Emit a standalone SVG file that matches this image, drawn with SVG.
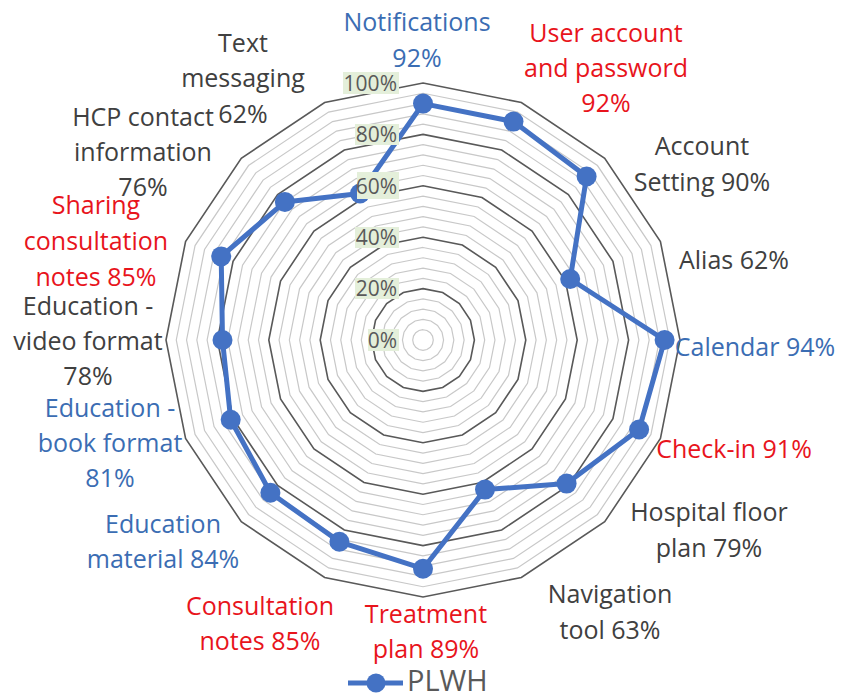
<svg xmlns="http://www.w3.org/2000/svg" xmlns:xlink="http://www.w3.org/1999/xlink" width="842" height="697" viewBox="0 0 842 697">
<style>
text{font-family:"Open Sans","Noto Sans","Liberation Sans",sans-serif}
#ring{vector-effect:non-scaling-stroke}
.mi{fill:none;stroke:#c8c8c8;stroke-width:1.2}
.ma{fill:none;stroke:#595959;stroke-width:1.6}
.ax{font-size:21px;fill:#595959;text-anchor:end}
.axb{fill:#e4efda}
.cat{font-size:25px;text-anchor:middle}
.blue{fill:#3b6db3}
.red{fill:#e8141c}
.dark{fill:#404040}
.dot{fill:#4472c4}
.series{fill:none;stroke:#4472c4;stroke-width:5;stroke-linejoin:round}
</style>
<defs>
<polygon id="ring" vector-effect="non-scaling-stroke" points="0,-100 38.268,-92.388 70.711,-70.711 92.388,-38.268 100,0 92.388,38.268 70.711,70.711 38.268,92.388 0,100 -38.268,92.388 -70.711,70.711 -92.388,38.268 -100,0 -92.388,-38.268 -70.711,-70.711 -38.268,-92.388"/>
</defs>
<rect width="842" height="697" fill="#ffffff"/>
<g id="grid">
<g class="mi">
<use xlink:href="#ring" transform="translate(423 340) scale(0.1028)"/>
<use xlink:href="#ring" transform="translate(423 340) scale(0.2056)"/>
<use xlink:href="#ring" transform="translate(423 340) scale(0.3084)"/>
<use xlink:href="#ring" transform="translate(423 340) scale(0.4112)"/>
<use xlink:href="#ring" transform="translate(423 340) scale(0.6168)"/>
<use xlink:href="#ring" transform="translate(423 340) scale(0.7196)"/>
<use xlink:href="#ring" transform="translate(423 340) scale(0.8224)"/>
<use xlink:href="#ring" transform="translate(423 340) scale(0.9252)"/>
<use xlink:href="#ring" transform="translate(423 340) scale(1.1308)"/>
<use xlink:href="#ring" transform="translate(423 340) scale(1.2336)"/>
<use xlink:href="#ring" transform="translate(423 340) scale(1.3364)"/>
<use xlink:href="#ring" transform="translate(423 340) scale(1.4392)"/>
<use xlink:href="#ring" transform="translate(423 340) scale(1.6448)"/>
<use xlink:href="#ring" transform="translate(423 340) scale(1.7476)"/>
<use xlink:href="#ring" transform="translate(423 340) scale(1.8504)"/>
<use xlink:href="#ring" transform="translate(423 340) scale(1.9532)"/>
<use xlink:href="#ring" transform="translate(423 340) scale(2.1588)"/>
<use xlink:href="#ring" transform="translate(423 340) scale(2.2616)"/>
<use xlink:href="#ring" transform="translate(423 340) scale(2.3644)"/>
<use xlink:href="#ring" transform="translate(423 340) scale(2.4672)"/>
</g>
<g class="ma">
<use xlink:href="#ring" transform="translate(423 340) scale(0.514)"/>
<use xlink:href="#ring" transform="translate(423 340) scale(1.028)"/>
<use xlink:href="#ring" transform="translate(423 340) scale(1.542)"/>
<use xlink:href="#ring" transform="translate(423 340) scale(2.056)"/>
<use xlink:href="#ring" transform="translate(423 340) scale(2.57)"/>
</g>
</g>
<g id="series-plwh">
<polygon class="series" points="423,103.6 513.5,121.6 586.6,176.5 570.2,279 664.6,340 639.1,429.5 566.6,483.6 485,489.6 423,568.7 339.4,541.8 270.4,492.7 230.7,419.7 222.5,340 221.2,256.4 284.9,201.9 360,193.5"/>
<g class="dot">
<circle cx="423" cy="103.6" r="10"/>
<circle cx="513.5" cy="121.6" r="10"/>
<circle cx="586.6" cy="176.5" r="10"/>
<circle cx="570.2" cy="279" r="10"/>
<circle cx="664.6" cy="340" r="10"/>
<circle cx="639.1" cy="429.5" r="10"/>
<circle cx="566.6" cy="483.6" r="10"/>
<circle cx="485" cy="489.6" r="10"/>
<circle cx="423" cy="568.7" r="10"/>
<circle cx="339.4" cy="541.8" r="10"/>
<circle cx="270.4" cy="492.7" r="10"/>
<circle cx="230.7" cy="419.7" r="10"/>
<circle cx="222.5" cy="340" r="10"/>
<circle cx="221.2" cy="256.4" r="10"/>
<circle cx="284.9" cy="201.9" r="10"/>
<circle cx="360" cy="193.5" r="10"/>
</g>
</g>
<g id="axis-labels">
<rect class="axb" x="343" y="72" width="56" height="22"/>
<rect class="axb" x="355" y="124" width="44" height="21"/>
<rect class="axb" x="357" y="172" width="42" height="27"/>
<rect class="axb" x="355" y="227" width="44" height="21"/>
<rect class="axb" x="355" y="278" width="44" height="21"/>
<rect class="axb" x="368" y="329" width="31" height="22"/>
<text class="ax" x="397" y="90.5">100%</text>
<text class="ax" x="397" y="142">80%</text>
<text class="ax" x="397" y="193.5">60%</text>
<text class="ax" x="397" y="245">40%</text>
<text class="ax" x="397" y="296">20%</text>
<text class="ax" x="397" y="347.5">0%</text>
</g>
<g id="label-notifications"><text class="cat blue" x="417"><tspan x="417" y="31">Notifications</tspan><tspan x="417" y="67">92%</tspan></text></g>
<g id="label-user-account"><text class="cat red" x="606"><tspan x="606" y="42">User account</tspan><tspan x="606" y="77">and password</tspan><tspan x="606" y="112">92%</tspan></text></g>
<g id="label-account-setting"><text class="cat dark" x="702"><tspan x="702" y="155">Account</tspan><tspan x="702" y="191">Setting 90%</tspan></text></g>
<g id="label-alias"><text class="cat dark" x="734" y="269">Alias 62%</text></g>
<g id="label-calendar"><text class="cat blue" x="755" y="356">Calendar 94%</text></g>
<g id="label-check-in"><text class="cat red" x="734" y="458">Check-in 91%</text></g>
<g id="label-hospital-floor-plan"><text class="cat dark" x="709"><tspan x="709" y="521">Hospital floor</tspan><tspan x="709" y="557">plan 79%</tspan></text></g>
<g id="label-navigation-tool"><text class="cat dark" x="610"><tspan x="610" y="603">Navigation</tspan><tspan x="610" y="639">tool 63%</tspan></text></g>
<g id="label-treatment-plan"><text class="cat red" x="426"><tspan x="426" y="623">Treatment</tspan><tspan x="426" y="658">plan 89%</tspan></text></g>
<g id="label-consultation-notes"><text class="cat red" x="260"><tspan x="260" y="615">Consultation</tspan><tspan x="260" y="650">notes 85%</tspan></text></g>
<g id="label-education-material"><text class="cat blue" x="163"><tspan x="163" y="533">Education</tspan><tspan x="163" y="568">material 84%</tspan></text></g>
<g id="label-education-book"><text class="cat blue" x="110"><tspan x="110" y="417">Education -</tspan><tspan x="110" y="452">book format</tspan><tspan x="110" y="487">81%</tspan></text></g>
<g id="label-education-video"><text class="cat dark" x="88"><tspan x="88" y="315">Education -</tspan><tspan x="88" y="350">video format</tspan><tspan x="88" y="385">78%</tspan></text></g>
<g id="label-sharing-notes"><text class="cat red" x="96"><tspan x="96" y="214">Sharing</tspan><tspan x="96" y="250">consultation</tspan><tspan x="96" y="286">notes 85%</tspan></text></g>
<g id="label-hcp-contact"><text class="cat dark" x="143"><tspan x="143" y="126">HCP contact</tspan><tspan x="143" y="161">information</tspan><tspan x="143" y="196">76%</tspan></text></g>
<g id="label-text-messaging"><text class="cat dark" x="243"><tspan x="243" y="52">Text</tspan><tspan x="243" y="87">messaging</tspan><tspan x="243" y="123">62%</tspan></text></g>
<g id="legend">
<line x1="348" y1="683" x2="403" y2="683" stroke="#4472c4" stroke-width="5"/>
<circle cx="376" cy="683" r="9.5" fill="#4472c4"/>
<text x="407" y="691" font-size="29" fill="#595959">PLWH</text>
</g>
</svg>
